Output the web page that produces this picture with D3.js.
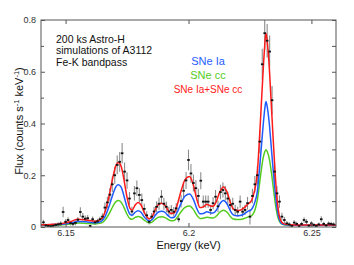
<!DOCTYPE html>
<html>
<head>
<meta charset="utf-8">
<script src="https://cdn.jsdelivr.net/npm/d3@7"></script>
<style>
body { margin: 0; background: #fff; }
svg { font-family: "Liberation Sans", Arial, sans-serif; }
</style>
</head>
<body>
<div id="chart"></div>
<script>
// model curves (sampled off the plot)
var modelEnergy = [6.1400,6.1437,6.1477,6.1518,6.1551,6.1583,6.1620,6.1644,6.1661,6.1677,6.1693,6.1705,6.1715,6.1726,6.1738,6.1750,6.1762,6.1771,6.1783,6.1795,6.1807,6.1819,6.1832,6.1840,6.1852,6.1864,6.1876,6.1891,6.1905,6.1917,6.1929,6.1942,6.1954,6.1970,6.1986,6.2004,6.2019,6.2033,6.2047,6.2060,6.2075,6.2088,6.2100,6.2113,6.2127,6.2142,6.2157,6.2170,6.2182,6.2197,6.2210,6.2227,6.2243,6.2255,6.2263,6.2271,6.2280,6.2288,6.2296,6.2304,6.2310,6.2315,6.2320,6.2329,6.2337,6.2345,6.2353,6.2361,6.2369,6.2377,6.2389,6.2414,6.2455,6.2600]
var snIa   = [0.008,0.009,0.010,0.015,0.021,0.020,0.016,0.021,0.041,0.080,0.128,0.156,0.163,0.154,0.118,0.076,0.049,0.045,0.057,0.063,0.057,0.040,0.027,0.023,0.028,0.044,0.057,0.061,0.056,0.044,0.036,0.038,0.057,0.092,0.120,0.128,0.109,0.073,0.051,0.052,0.059,0.055,0.054,0.065,0.089,0.102,0.089,0.063,0.047,0.043,0.044,0.051,0.061,0.067,0.079,0.099,0.137,0.215,0.305,0.396,0.454,0.485,0.466,0.396,0.305,0.215,0.131,0.067,0.031,0.016,0.010,0.008,0.007,0.007]
var snCC   = [0.007,0.008,0.008,0.012,0.015,0.014,0.012,0.015,0.027,0.051,0.081,0.098,0.102,0.096,0.075,0.049,0.032,0.030,0.037,0.041,0.037,0.027,0.019,0.016,0.019,0.029,0.037,0.040,0.036,0.029,0.024,0.025,0.037,0.059,0.076,0.081,0.069,0.047,0.033,0.034,0.038,0.036,0.035,0.042,0.057,0.065,0.057,0.041,0.031,0.029,0.029,0.033,0.039,0.043,0.051,0.068,0.105,0.160,0.220,0.268,0.290,0.299,0.292,0.262,0.212,0.152,0.092,0.047,0.023,0.013,0.009,0.007,0.007,0.007]
var snBoth = [0.009,0.010,0.012,0.020,0.030,0.027,0.022,0.030,0.060,0.120,0.195,0.238,0.249,0.235,0.180,0.115,0.072,0.066,0.085,0.095,0.085,0.058,0.038,0.032,0.040,0.065,0.085,0.092,0.083,0.065,0.052,0.055,0.085,0.140,0.183,0.195,0.165,0.110,0.075,0.078,0.088,0.082,0.080,0.098,0.135,0.155,0.135,0.095,0.070,0.064,0.065,0.075,0.090,0.100,0.120,0.150,0.210,0.330,0.470,0.610,0.700,0.749,0.720,0.610,0.470,0.330,0.200,0.100,0.045,0.022,0.012,0.009,0.008,0.008]

// simulated spectrum, 1 eV bins
var binEnergy = d3.range(119).map(function (i) { return +(6.141 + i * 0.001).toFixed(3) })
var binFlux = [0.018,0.006,0.004,0.003,0.005,0.008,0.010,0.013,0.058,0.020,0.027,0.015,0.012,0.016,0.028,0.058,0.040,0.032,0.034,0.004,
  0.030,0.018,0.022,0.030,0.040,0.075,0.095,0.125,0.165,0.200,0.240,0.252,0.285,0.214,0.180,0.110,0.060,0.130,0.150,0.124,
  0.104,0.070,0.045,0.020,0.040,0.060,0.078,0.090,0.117,0.090,0.078,0.060,0.066,0.059,0.072,0.030,0.100,0.140,0.180,0.259,
  0.207,0.170,0.150,0.120,0.179,0.098,0.098,0.098,0.066,0.092,0.117,0.080,0.135,0.143,0.130,0.110,0.085,0.090,0.066,0.059,
  0.098,0.059,0.066,0.092,0.040,0.120,0.165,0.200,0.330,0.629,0.749,0.720,0.678,0.490,0.214,0.130,0.098,0.040,0.027,0.014,
  0.010,0.004,0.017,0.012,0.003,0.012,0.027,0.020,0.005,0.014,0.008,0.004,0.010,0.030,0.012,0.006,0.013,0.012,0.010]
var binErr = [0.010,0.007,0.006,0.006,0.006,0.007,0.008,0.009,0.020,0.010,0.011,0.009,0.008,0.009,0.011,0.018,0.014,0.012,0.012,0.006,
  0.011,0.009,0.010,0.011,0.013,0.020,0.022,0.026,0.030,0.033,0.036,0.038,0.040,0.035,0.032,0.025,0.018,0.028,0.030,0.027,
  0.025,0.020,0.016,0.010,0.014,0.018,0.021,0.023,0.026,0.023,0.021,0.018,0.019,0.018,0.020,0.012,0.025,0.030,0.033,0.040,
  0.036,0.033,0.031,0.028,0.033,0.024,0.024,0.024,0.020,0.023,0.026,0.022,0.028,0.029,0.028,0.026,0.022,0.023,0.020,0.019,
  0.024,0.019,0.020,0.024,0.030,0.028,0.032,0.036,0.045,0.060,0.065,0.065,0.062,0.055,0.036,0.028,0.024,0.015,0.012,0.009,
  0.008,0.006,0.009,0.008,0.005,0.008,0.011,0.010,0.006,0.008,0.007,0.006,0.007,0.012,0.008,0.006,0.008,0.008,0.008]

var xTicks = [6.15, 6.2, 6.25]
var yTicks = [0, 0.2, 0.4, 0.6, 0.8]
var yMinor = [0.1, 0.3, 0.5, 0.7]
var noteLines = ["200 ks Astro-H", "simulations of A3112", "Fe-K bandpass"]
var legendNames = ["SNe Ia", "SNe cc", "SNe Ia+SNe cc"]

var W = 354, H = 265
var margin = {top: 20, right: 18, bottom: 38, left: 41}
var width = W - margin.left - margin.right,
    height = H - margin.top - margin.bottom

var svg = d3.select("#chart").append("svg")
    .attr("width", W)
    .attr("height", H)
var g = svg.append("g")
    .attr("transform", "translate(" + margin.left + "," + margin.top + ")")

var x = d3.scaleLinear().domain([6.14, 6.26]).range([0, width])
var y = d3.scaleLinear().domain([0, 0.8]).range([height, 0])

g.append("clipPath").attr("id", "clip")
  .append("rect").attr("width", width).attr("height", height)

var plot = g.append("g").attr("clip-path", "url(#clip)")

var bins = binEnergy.map(function (e, i) {
    return {e: e, f: binFlux[i], err: binErr[i]}
})

// error bars
plot.selectAll("line.err")
    .data(bins)
  .enter().append("line")
    .attr("class", "err")
    .attr("x1", function (d) { return x(d.e) })
    .attr("x2", function (d) { return x(d.e) })
    .attr("y1", function (d) { return y(d.f - d.err) })
    .attr("y2", function (d) { return y(d.f + d.err) })
    .attr("stroke", "#8c8c8c")
    .attr("stroke-width", 1.1)

// model lines
var models = [
    {vals: snCC, color: "#55cc22"},
    {vals: snIa, color: "#1f5cff"},
    {vals: snBoth, color: "#ff1a1a"}
]
var line = d3.line()
    .x(function (d) { return x(d[0]) })
    .y(function (d) { return y(d[1]) })
    .curve(d3.curveMonotoneX)

models.forEach(function (m) {
    plot.append("path")
        .datum(modelEnergy.map(function (e, i) { return [e, m.vals[i]] }))
        .attr("d", line)
        .attr("fill", "none")
        .attr("stroke", m.color)
        .attr("stroke-width", 1.5)
})

// data points
plot.selectAll("rect.pt")
    .data(bins)
  .enter().append("rect")
    .attr("class", "pt")
    .attr("x", function (d) { return x(d.e) - 1.3 })
    .attr("y", function (d) { return y(d.f) - 0.9 })
    .attr("width", 2.6)
    .attr("height", 1.8)
    .attr("fill", "#111")

// frame
g.append("rect")
    .attr("width", width).attr("height", height)
    .attr("fill", "none").attr("stroke", "#555").attr("stroke-width", 1)

var fmt = d3.format("~g")

function styleAxis(sel) {
    sel.select(".domain").remove()
    sel.selectAll(".tick line").attr("stroke", "#555")
    sel.selectAll(".tick text").attr("fill", "#333").style("font-size", "9px")
}

g.append("g")
    .attr("transform", "translate(0," + height + ")")
    .call(d3.axisBottom(x).tickValues(xTicks).tickFormat(fmt).tickSize(-4).tickPadding(3))
    .call(styleAxis)
g.append("g")
    .call(d3.axisTop(x).tickValues(xTicks).tickFormat("").tickSize(-4))
    .call(styleAxis)
g.append("g")
    .call(d3.axisLeft(y).tickValues(yTicks).tickFormat(fmt).tickSize(-4).tickPadding(5))
    .call(styleAxis)
g.append("g")
    .call(d3.axisLeft(y).tickValues(yMinor).tickFormat("").tickSize(-3))
    .call(styleAxis)
g.append("g")
    .attr("transform", "translate(" + width + ",0)")
    .call(d3.axisRight(y).tickValues(yTicks.concat(yMinor)).tickFormat("").tickSize(-4))
    .call(styleAxis)

// axis titles
svg.append("text")
    .attr("x", margin.left + x(6.2))
    .attr("y", 249)
    .attr("text-anchor", "middle")
    .style("font-size", "11px")
    .attr("fill", "#111")
    .text("Energy (keV)")

var yl = svg.append("text")
    .attr("transform", "translate(23,121) rotate(-90)")
    .attr("text-anchor", "middle")
    .style("font-size", "11px")
    .attr("fill", "#111")
yl.append("tspan").text("Flux (counts s")
yl.append("tspan").attr("dy", -4).style("font-size", "7.5px").text("-1")
yl.append("tspan").attr("dy", 4).text(" keV")
yl.append("tspan").attr("dy", -4).style("font-size", "7.5px").text("-1")
yl.append("tspan").attr("dy", 4).text(")")

// note text
svg.selectAll("text.note")
    .data(noteLines)
  .enter().append("text")
    .attr("class", "note")
    .attr("x", 56)
    .attr("y", function (d, i) { return 42.5 + i * 11.8 })
    .style("font-size", "10.5px")
    .attr("fill", "#111")
    .text(function (d) { return d })

// legend
var legColors = ["#1f5cff", "#55cc22", "#ff1a1a"]
var legSizes = [11, 11, 10]
var legY = [64.5, 79, 92.5]
svg.selectAll("text.leg")
    .data(legendNames)
  .enter().append("text")
    .attr("class", "leg")
    .attr("x", 208)
    .attr("y", function (d, i) { return legY[i] })
    .attr("text-anchor", "middle")
    .style("font-size", function (d, i) { return legSizes[i] + "px" })
    .attr("fill", function (d, i) { return legColors[i] })
    .text(function (d) { return d })
</script>
</body>
</html>
